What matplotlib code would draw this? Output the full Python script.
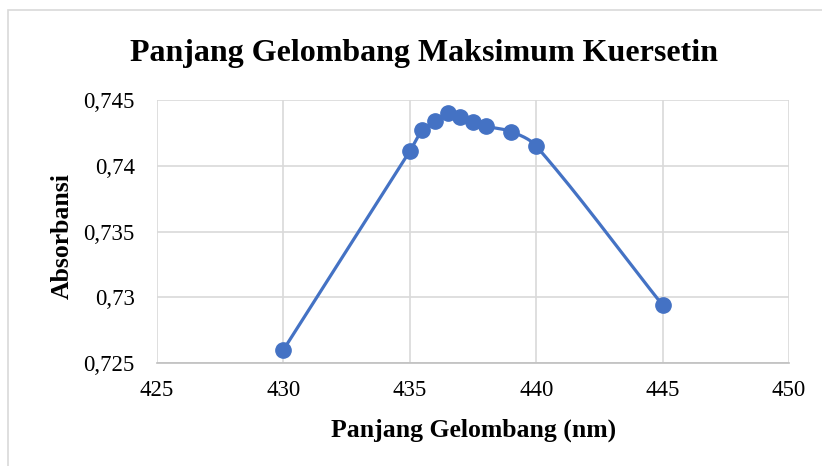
import matplotlib
matplotlib.use("Agg")
import matplotlib.pyplot as plt
import numpy as np
from matplotlib.patches import Rectangle

wavelength = [430, 435, 435.5, 436, 436.5, 437, 437.5, 438, 439, 440, 445]
absorbance = [0.7260, 0.7411, 0.7427, 0.7434, 0.7440, 0.7437, 0.7433, 0.7430, 0.7426, 0.7415, 0.7294]
x_ticks = [425, 430, 435, 440, 445, 450]
y_ticks = [0.725, 0.73, 0.735, 0.74, 0.745]
y_tick_labels = ["0,725", "0,73", "0,735", "0,74", "0,745"]

W, H = 822, 466
fig = plt.figure(figsize=(W / 100, H / 100), dpi=100)
serif = ["Liberation Serif", "DejaVu Serif"]
ax = fig.add_axes([157 / W, 1 - 363 / H, (789 - 157) / W, (363 - 100) / H])

ax.set_xlim(425, 450)
ax.set_ylim(0.725, 0.745)
ax.set_xticks(x_ticks)
ax.set_yticks(y_ticks)
ax.set_xticklabels([str(t) for t in x_ticks], fontfamily=serif, fontsize=16.5)
ax.set_yticklabels(y_tick_labels, fontfamily=serif, fontsize=16.5)
ax.tick_params(axis="x", length=0, pad=12)
ax.tick_params(axis="y", length=0, pad=16)
ax.grid(True, color="#D9D9D9", linewidth=1.2)
ax.set_axisbelow(True)
for s in ["top", "right", "left"]:
    ax.spines[s].set_visible(False)
ax.spines["bottom"].set_color("#BFBFBF")
ax.spines["bottom"].set_linewidth(1.2)

# Excel-like smoothed line (Bezier through points), computed in display space
fig.canvas.draw()
pts = ax.transData.transform(np.column_stack([wavelength, absorbance]))
n = len(pts)
curve = []
for i in range(n - 1):
    p0 = pts[i - 1] if i > 0 else pts[i]
    p1 = pts[i]
    p2 = pts[i + 1]
    p3 = pts[i + 2] if i + 2 < n else pts[i + 1]
    d01 = np.linalg.norm(p1 - p0)
    d12 = np.linalg.norm(p2 - p1)
    d23 = np.linalg.norm(p3 - p2)
    c1 = p1 + (p2 - p0) * (d12 / (d01 + d12)) / 3
    c2 = p2 - (p3 - p1) * (d12 / (d12 + d23)) / 3
    t = np.linspace(0, 1, 40)[:, None]
    seg = (1 - t) ** 3 * p1 + 3 * (1 - t) ** 2 * t * c1 + 3 * (1 - t) * t ** 2 * c2 + t ** 3 * p2
    curve.append(seg if i == 0 else seg[1:])
curve = ax.transData.inverted().transform(np.vstack(curve))
ax.plot(curve[:, 0], curve[:, 1], color="#4472C4", linewidth=2.3, solid_capstyle="round", zorder=3)
ax.plot(wavelength, absorbance, linestyle="none", marker="o", markersize=11,
        color="#4472C4", zorder=4, clip_on=False)

fig.text(424 / W, 1 - 53 / H, "Panjang Gelombang Maksimum Kuersetin", ha="center", va="center",
         fontfamily=serif, fontweight="bold", fontsize=23)
fig.text(474 / W, 1 - 430 / H, "Panjang Gelombang (nm)", ha="center", va="center",
         fontfamily=serif, fontweight="bold", fontsize=18.5)
fig.text(62 / W, 1 - 236 / H, "Absorbansi", ha="center", va="center", rotation=90,
         fontfamily=serif, fontweight="bold", fontsize=18.5)

fig.patches.append(Rectangle((8 / W, -0.1), 2, 1 - 10 / H + 0.1, transform=fig.transFigure,
                             fill=False, edgecolor="#D9D9D9", linewidth=1.2))

fig.savefig("out.png", dpi=100)
